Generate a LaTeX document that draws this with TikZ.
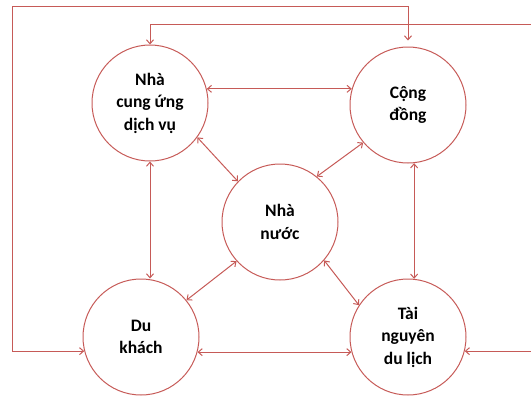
\documentclass[tikz,border=0pt]{standalone}
\usepackage{fontspec}
\setmainfont{Carlito}
\usetikzlibrary{arrows.meta}
\definecolor{linered}{HTML}{C65A57}
\tikzset{
  actor/.style={circle, draw=linered, line width=1pt, minimum size=116pt, inner sep=0pt,
    align=center, font=\fontsize{17.5}{22.5}\selectfont\bfseries},
  arr/.style={draw=linered, line width=1pt, arrows={Straight Barb[length=4pt,width=7pt]-Straight Barb[length=4pt,width=7pt]}},
}
\begin{document}
\begin{tikzpicture}[x=1pt,y=-1pt]
\useasboundingbox (0,0) rectangle (531,397);
\node[actor] (A) at (150,103) {Nhà\\cung ứng\\dịch vụ};
\node[actor] (B) at (408,105) {Cộng\\đồng};
\node[actor] (C) at (280,222) {Nhà\\nước};
\node[actor] (D) at (141,337) {Du\\khách};
\node[actor] (E) at (408,337) {Tài\\nguyên\\du lịch};
% direct links
\draw[arr] (A.14) -- (A.14 -| B.164);
\draw[arr] (D.-15) -- (D.-15 -| E.195);
\draw[arr] (A.south) -- (A.south |- D.north);
\draw[arr] (B.-84) -- (B.-84 |- E.84);
\draw[arr] (A.-36) -- (C.136);
\draw[arr] (B.-140) -- (C.51);
\draw[arr] (D.39) -- (C.-138);
\draw[arr] (E.147) -- (C.-41);
% outer loops
\draw[arr,shorten <=6pt] (B.north) |- (12,6) |- (D.194);
\draw[arr] (A.north) |- (536,24) |- (E.-14);
\end{tikzpicture}
\end{document}
